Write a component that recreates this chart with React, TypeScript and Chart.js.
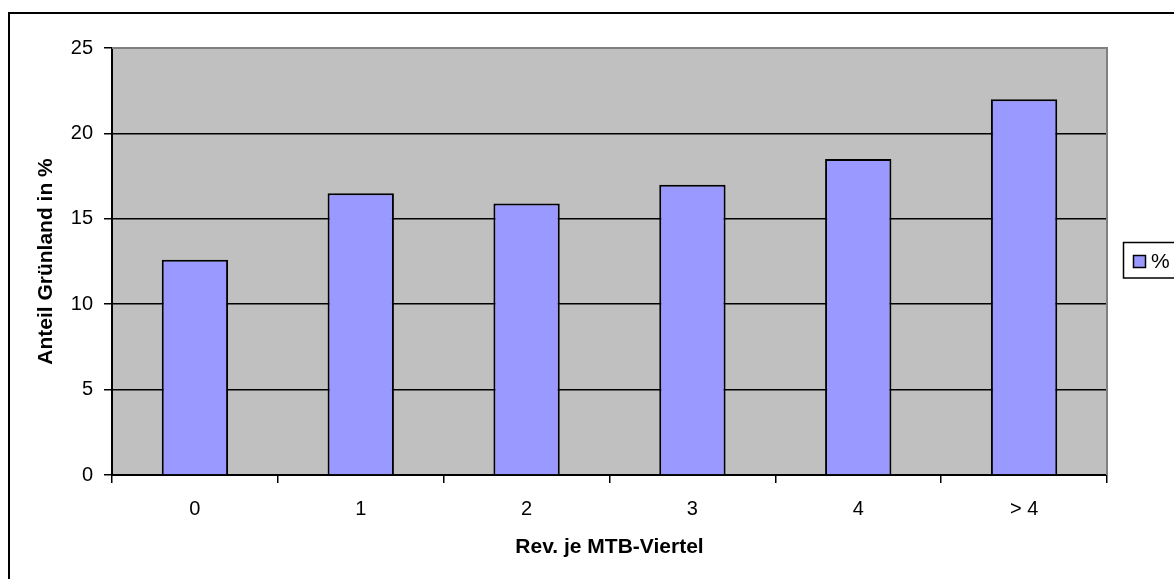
import React, { useEffect, useRef } from "react";
import { Chart, registerables } from "chart.js";

Chart.register(...registerables);

const categories = ["0", "1", "2", "3", "4", "> 4"];
const values = [12.6, 16.5, 15.9, 17.0, 18.5, 22.0];
const seriesLabel = "%";
const xTitle = "Rev. je MTB-Viertel";
const yTitle = "Anteil Grünland in %";
const yMin = 0;
const yMax = 25;
const yStep = 5;

const FONT = "'Liberation Sans', Arial, sans-serif";
const BAR_COLOR = "#9999FF";

export default function App() {
  const ref = useRef<HTMLCanvasElement>(null);

  useEffect(() => {
    if (!ref.current) return;
    const deco = {
      id: "deco",
      beforeDraw(chart: any) {
        const { ctx, chartArea: a } = chart;
        ctx.save();
        ctx.fillStyle = "#ffffff";
        ctx.fillRect(0, 0, chart.width, chart.height);
        ctx.fillStyle = "#C0C0C0";
        ctx.fillRect(a.left, a.top, a.right - a.left, a.bottom - a.top);
        ctx.restore();
      },
      afterDraw(chart: any) {
        const { ctx, chartArea: a } = chart;
        ctx.save();
        // top and right plot border (gray)
        ctx.strokeStyle = "#808080";
        ctx.lineWidth = 2;
        ctx.beginPath();
        ctx.moveTo(a.left, a.top);
        ctx.lineTo(a.right, a.top);
        ctx.lineTo(a.right, a.bottom);
        ctx.stroke();
        // outer frame
        ctx.strokeStyle = "#000000";
        ctx.lineWidth = 2;
        ctx.strokeRect(9, 13, chart.width + 40, chart.height + 40);
        // legend
        const ds = chart.data.datasets[0];
        ctx.fillStyle = "#ffffff";
        ctx.fillRect(1123, 242, 80, 36);
        ctx.strokeStyle = "#000000";
        ctx.lineWidth = 1.5;
        ctx.strokeRect(1123.5, 242.5, 80, 35.5);
        ctx.fillStyle = ds.backgroundColor;
        ctx.fillRect(1133, 255, 13, 13);
        ctx.lineWidth = 1.5;
        ctx.strokeRect(1133.5, 255.5, 12, 12);
        ctx.fillStyle = "#000000";
        ctx.font = `21px ${FONT}`;
        ctx.textBaseline = "middle";
        ctx.textAlign = "left";
        ctx.fillText(ds.label, 1151, 262);
        ctx.restore();
      },
    };

    const chart = new Chart(ref.current, {
      type: "bar",
      data: {
        labels: categories,
        datasets: [
          {
            label: seriesLabel,
            data: values,
            backgroundColor: BAR_COLOR,
            borderColor: "#000000",
            borderWidth: 2,
            barPercentage: 0.4,
            categoryPercentage: 1,
          },
        ],
      },
      options: {
        animation: false,
        responsive: false,
        devicePixelRatio: 1,
        layout: { padding: { top: 48, right: 67, left: 0, bottom: 0 } },
        plugins: {
          legend: { display: false },
          tooltip: { enabled: false },
        },
        scales: {
          x: {
            grid: {
              offset: true,
              drawOnChartArea: false,
              drawTicks: true,
              tickLength: 8,
              color: "#000000",
              lineWidth: 1.5,
            },
            border: { color: "#000000", width: 2 },
            ticks: {
              color: "#000000",
              font: { family: FONT, size: 20 },
              padding: 14,
            },
            title: {
              display: true,
              text: xTitle,
              color: "#000000",
              font: { family: FONT, size: 21, weight: "bold" },
              padding: { top: 0, bottom: 19 },
            },
            afterFit: (s: any) => {
              s.height = 104;
            },
          },
          y: {
            min: yMin,
            max: yMax,
            ticks: {
              stepSize: yStep,
              color: "#000000",
              font: { family: FONT, size: 20 },
              padding: 11,
            },
            grid: {
              color: "#000000",
              lineWidth: 1.5,
              drawTicks: true,
              tickLength: 8,
            },
            border: { color: "#000000", width: 2 },
            title: {
              display: true,
              text: yTitle,
              color: "#000000",
              font: { family: FONT, size: 21, weight: "bold" },
              padding: { top: 34, bottom: 0 },
            },
            afterFit: (s: any) => {
              s.width = 112;
            },
          },
        },
      },
      plugins: [deco],
    });
    return () => chart.destroy();
  }, []);

  return (
    <canvas
      ref={ref}
      width={1174}
      height={579}
      style={{ position: "fixed", left: 0, top: 0, width: 1174, height: 579 }}
    />
  );
}
